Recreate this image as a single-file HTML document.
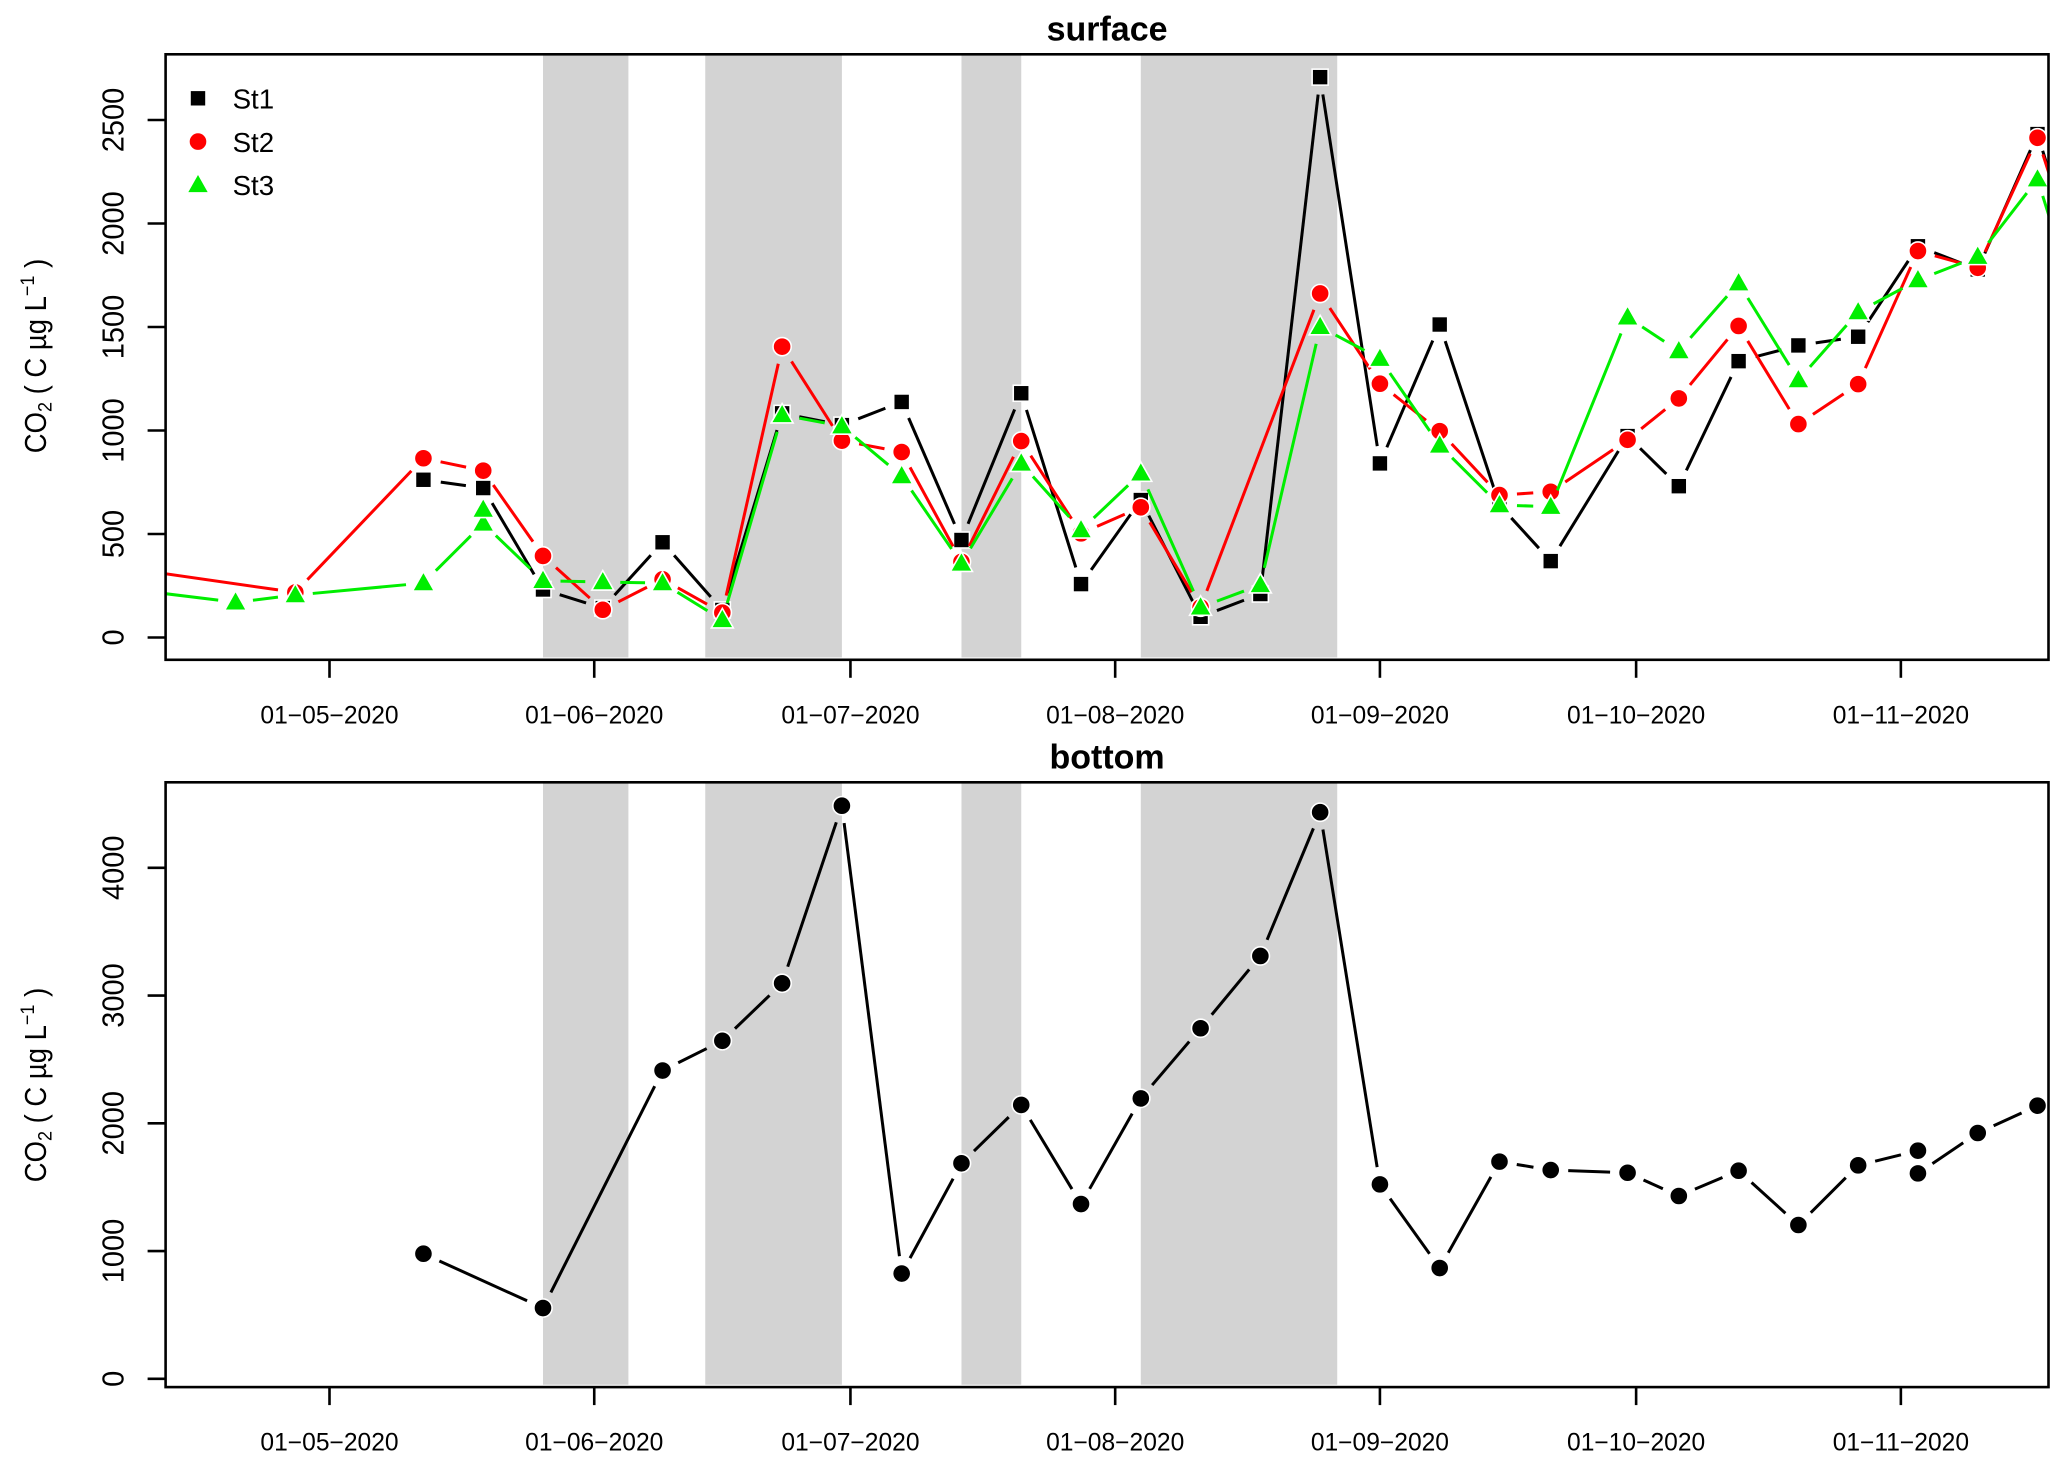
<!DOCTYPE html>
<html lang="en">
<head>
<meta charset="utf-8">
<title>CO2 surface and bottom</title>
<style>
html,body{margin:0;padding:0;background:#fff;}
svg{display:block;font-family:"Liberation Sans",Arial,sans-serif;}
</style>
</head>
<body>
<svg id="chart" xmlns="http://www.w3.org/2000/svg" width="2067" height="1469" viewBox="0 0 2067 1469"></svg>
<script>
// ---------- data ----------
const bandStarts = ['2020-05-26', '2020-06-14', '2020-07-14', '2020-08-04'];
const bandEnds = ['2020-06-05', '2020-06-30', '2020-07-21', '2020-08-27'];
const xTickDates = ['2020-05-01', '2020-06-01', '2020-07-01', '2020-08-01', '2020-09-01', '2020-10-01', '2020-11-01'];
const xTickLabels = ['01\u221205\u22122020', '01\u221206\u22122020', '01\u221207\u22122020', '01\u221208\u22122020', '01\u221209\u22122020', '01\u221210\u22122020', '01\u221211\u22122020'];
const surfaceYTicks = [0, 500, 1000, 1500, 2000, 2500];
const bottomYTicks = [0, 1000, 2000, 3000, 4000];

const st1Dates = ['2020-05-12', '2020-05-19', '2020-05-26', '2020-06-02', '2020-06-09', '2020-06-16', '2020-06-23', '2020-06-30', '2020-07-07', '2020-07-14', '2020-07-21', '2020-07-28', '2020-08-04', '2020-08-11', '2020-08-18', '2020-08-25', '2020-09-01', '2020-09-08', '2020-09-15', '2020-09-21', '2020-09-30', '2020-10-06', '2020-10-13', '2020-10-20', '2020-10-27', '2020-11-03', '2020-11-10', '2020-11-17', '2020-11-24'];
const st1Values = [762, 722, 232, 142, 460, 133, 1083, 1026, 1138, 471, 1180, 258, 664, 100, 210, 2707, 841, 1512, 640, 369, 973, 731, 1335, 1411, 1453, 1890, 1778, 2432, 1500];

const st2Dates = ['2020-04-06', '2020-04-27', '2020-05-12', '2020-05-19', '2020-05-26', '2020-06-02', '2020-06-09', '2020-06-16', '2020-06-23', '2020-06-30', '2020-07-07', '2020-07-14', '2020-07-21', '2020-07-28', '2020-08-04', '2020-08-11', '2020-08-25', '2020-09-01', '2020-09-08', '2020-09-15', '2020-09-21', '2020-09-30', '2020-10-06', '2020-10-13', '2020-10-20', '2020-10-27', '2020-11-03', '2020-11-10', '2020-11-17', '2020-11-24'];
const st2Values = [342, 218, 866, 806, 394, 134, 281, 120, 1405, 951, 896, 366, 949, 503, 629, 146, 1662, 1226, 997, 688, 704, 955, 1155, 1505, 1031, 1224, 1867, 1786, 2414, 1520];

const st3Dates = ['2020-04-06', '2020-04-20', '2020-04-27', '2020-05-12', '2020-05-19', '2020-05-26', '2020-06-02', '2020-06-09', '2020-06-16', '2020-06-23', '2020-06-30', '2020-07-07', '2020-07-14', '2020-07-21', '2020-07-28', '2020-08-04', '2020-08-11', '2020-08-18', '2020-08-25', '2020-09-01', '2020-09-08', '2020-09-15', '2020-09-21', '2020-09-30', '2020-10-06', '2020-10-13', '2020-10-20', '2020-10-27', '2020-11-03', '2020-11-10', '2020-11-17', '2020-11-24'];
const st3Values = [241, 170, 205, 263, 551, 274, 268, 263, 85, 1075, 1021, 780, 358, 841, 519, 793, 146, 254, 1501, 1347, 928, 640, 632, 1547, 1384, 1712, 1244, 1572, 1727, 1840, 2214, 1290];
const st3ExtraDates = ['2020-05-19'];
const st3ExtraValues = [618];

const bottomDates = ['2020-05-12', '2020-05-26', '2020-06-09', '2020-06-16', '2020-06-23', '2020-06-30', '2020-07-07', '2020-07-14', '2020-07-21', '2020-07-28', '2020-08-04', '2020-08-11', '2020-08-18', '2020-08-25', '2020-09-01', '2020-09-08', '2020-09-15', '2020-09-21', '2020-09-30', '2020-10-06', '2020-10-13', '2020-10-20', '2020-10-27', '2020-11-03', '2020-11-03', '2020-11-10', '2020-11-17'];
const bottomValues = [979, 554, 2413, 2646, 3096, 4486, 824, 1687, 2144, 1368, 2195, 2744, 3310, 4435, 1522, 867, 1700, 1634, 1613, 1431, 1629, 1204, 1671, 1786, 1608, 1924, 2138];

const seriesNames = ['St1', 'St2', 'St3'];

// ---------- layout ----------
const NS = 'http://www.w3.org/2000/svg';
const svg = document.getElementById('chart');
const FRAME_L = 165.6, FRAME_R = 2048.5;
const GAP = 17.5, LINE_W = 3;
const RED = '#ff0000', GREEN = '#00ee00', BLACK = '#000000', GREY = '#d3d3d3';

function make(tag, attrs, parent) {
  const e = document.createElementNS(NS, tag);
  for (const k in attrs) e.setAttribute(k, attrs[k]);
  parent.appendChild(e);
  return e;
}

// time axis: 2020-05-01 -> 329.5 px, 8.54 px per day
function xPos(date) {
  const days = (Date.parse(date + 'T00:00:00Z') - Date.UTC(2020, 4, 1)) / 86400000;
  return 329.5 + days * 8.54;
}
function surfaceY(v) { return 637.5 - v * 0.207; }
function bottomY(v) { return 1378.8 - v * 0.12775; }

function drawSegments(parent, dates, values, yFn, color) {
  for (let i = 0; i < dates.length - 1; i++) {
    const x1 = xPos(dates[i]), y1 = yFn(values[i]);
    const x2 = xPos(dates[i + 1]), y2 = yFn(values[i + 1]);
    const len = Math.hypot(x2 - x1, y2 - y1);
    if (len <= 2 * GAP) continue;
    const ux = (x2 - x1) / len, uy = (y2 - y1) / len;
    const seg = make('line', {
      x1: x1 + ux * GAP, y1: y1 + uy * GAP,
      x2: x2 - ux * GAP, y2: y2 - uy * GAP,
      stroke: color, 'stroke-width': LINE_W
    }, parent);
    
    
  }
}

function drawMarker(parent, shape, x, y, color) {
  const stroke = '#ffffff';
  const sw = 1.6;
  let m;
  if (shape === 'square') {
    m = make('rect', { x: x - 8, y: y - 8, width: 16, height: 16, fill: color, stroke: stroke, 'stroke-width': sw }, parent);
  } else if (shape === 'circle') {
    m = make('circle', { cx: x, cy: y, r: 9.1, fill: color, stroke: stroke, 'stroke-width': sw }, parent);
  } else {
    const pts = [[x, y - 11.5], [x + 11, y + 8], [x - 11, y + 8]].map(p => p.join(',')).join(' ');
    m = make('polygon', { points: pts, fill: color, stroke: stroke, 'stroke-width': sw }, parent);
  }
  
  
  return m;
}

function drawSeries(parent, dates, values, yFn, color, shape) {
  drawSegments(parent, dates, values, yFn, color);
  dates.forEach((d, i) => drawMarker(parent, shape, xPos(d), yFn(values[i]), color));
}

function yTitle(parent, cy, name) {
  const t = make('text', {
    transform: 'translate(46,' + cy + ') rotate(-90) scale(1,1.1)',
    'text-anchor': 'middle', 'font-size': 27.5, fill: '#000'
  }, parent);
  
  
  const parts = [['CO', 0, 27.5], ['2', 5, 18], [' ( C \u00b5g L', -5, 27.5], ['\u22121', -11, 18], [' )', 11, 27.5]];
  parts.forEach(p => {
    const s = make('tspan', { dy: p[1], 'font-size': p[2] }, t);
    s.textContent = p[0];
  });
  t.style.whiteSpace = 'pre';
}

function drawPanel(cfg) {
  const g = make('g', {}, svg);
  
  

  const clipId = cfg.name + '-clip';
  const defs = make('defs', {}, g);
  const cp = make('clipPath', { id: clipId }, defs);
  make('rect', { x: FRAME_L, y: cfg.top, width: FRAME_R - FRAME_L, height: cfg.bottom - cfg.top }, cp);

  const bands = make('g', {}, g);
  
  
  bandStarts.forEach((s, i) => {
    const x1 = xPos(s), x2 = xPos(bandEnds[i]);
    const r = make('rect', { x: x1, y: cfg.top, width: x2 - x1, height: cfg.bottom - cfg.top - 2.4, fill: GREY }, bands);
    
    
  });

  const plot = make('g', { 'clip-path': 'url(#' + clipId + ')' }, g);
  
  
  cfg.draw(plot);

  const frame = make('rect', { x: FRAME_L, y: cfg.top, width: FRAME_R - FRAME_L, height: cfg.bottom - cfg.top, fill: 'none', stroke: '#000', 'stroke-width': 2.6 }, g);
  
  

  xTickDates.forEach((d, i) => {
    const x = xPos(d);
    const tick = make('line', { x1: x, x2: x, y1: cfg.bottom, y2: cfg.bottom + 18, stroke: '#000', 'stroke-width': 2.6 }, g);
    
    
    const label = make('text', { x: x, y: cfg.bottom + 63.5, 'text-anchor': 'middle', 'font-size': 24.6, fill: '#000' }, g);
    label.textContent = xTickLabels[i];
    
    
  });

  cfg.yTicks.forEach(v => {
    const y = cfg.yFn(v);
    const tick = make('line', { x1: FRAME_L - 18, x2: FRAME_L, y1: y, y2: y, stroke: '#000', 'stroke-width': 2.6 }, g);
    
    
    const label = make('text', { transform: 'translate(123.5,' + y + ') rotate(-90) scale(1,1.05)', 'text-anchor': 'middle', 'font-size': 29, fill: '#000' }, g);
    label.textContent = String(v);
    
    
  });

  yTitle(g, cfg.titleCy, 'y-axis-title');

  const title = make('text', { x: (FRAME_L + FRAME_R) / 2, y: cfg.top - 13.6, 'text-anchor': 'middle', 'font-size': 34, 'font-weight': 'bold', fill: '#000' }, g);
  title.textContent = cfg.title;
  
  
}

drawPanel({
  name: 'surface-panel', title: 'surface', top: 54.3, bottom: 659.8,
  yFn: surfaceY, yTicks: surfaceYTicks, titleCy: 356,
  draw(plot) {
    drawSeries(plot, st1Dates, st1Values, surfaceY, BLACK, 'square');
    drawSeries(plot, st2Dates, st2Values, surfaceY, RED, 'circle');
    drawSeries(plot, st3Dates, st3Values, surfaceY, GREEN, 'triangle');
    st3ExtraDates.forEach((d, i) => drawMarker(plot, 'triangle', xPos(d), surfaceY(st3ExtraValues[i]), GREEN));
  }
});

drawPanel({
  name: 'bottom-panel', title: 'bottom', top: 782.3, bottom: 1387.1,
  yFn: bottomY, yTicks: bottomYTicks, titleCy: 1085,
  draw(plot) {
    drawSeries(plot, bottomDates, bottomValues, bottomY, BLACK, 'circle');
  }
});

// legend
const legend = make('g', {}, svg);


const legendShapes = ['square', 'circle', 'triangle'];
const legendColors = [BLACK, RED, GREEN];
seriesNames.forEach((n, i) => {
  const cy = 98.3 + i * 43.3;
  drawMarker(legend, legendShapes[i], 198, cy, legendColors[i]);
  const t = make('text', { x: 232.6, y: cy + 10.3, 'font-size': 27.7, fill: '#000' }, legend);
  t.textContent = n;
  
  
});
</script>
</body>
</html>
